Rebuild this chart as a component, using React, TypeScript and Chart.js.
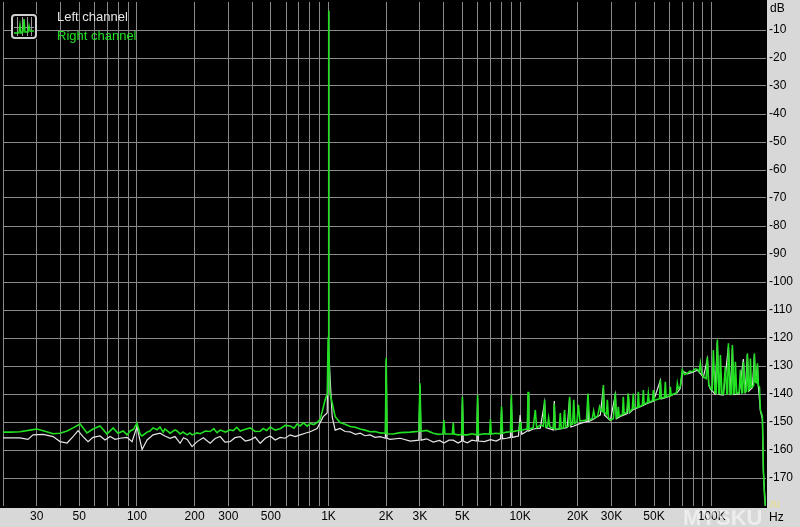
import { useEffect, useRef } from "react";
import { Chart, registerables } from "chart.js";

Chart.register(...registerables);

// ---- Data (frequency in Hz, level in dB) ----
const rightFreq = [
  20, 21.8, 24.5, 27.7, 30, 33.1, 36.5, 39.7, 43.2, 46.4, 50.5, 54.9, 59, 64.2, 69.8, 75.1, 79.7, 84.7, 88.8, 92.1,
  96, 100, 103.9, 106.4, 113, 117, 121.4, 127.4, 132, 137, 140, 149, 158, 162, 168, 174, 183, 189, 194, 206,
  214, 228, 241, 252, 262, 272, 290, 306, 318, 332, 346, 368, 390, 414, 440, 456, 476, 496, 527, 559,
  594, 630, 660, 686, 711, 740, 774, 802, 838, 872, 905, 927, 961, 985, 995, 1000, 1005, 1015, 1045, 1083,
  1150, 1220, 1297, 1380, 1463, 1550, 1649, 1750, 1861, 1980, 2000, 2020, 2176, 2367, 2669, 2960, 3000, 3040, 3250, 3520,
  3750, 3950, 4000, 4050, 4430, 4476, 4520, 4750, 4950, 5000, 5050, 5298, 5600, 5940, 6000, 6060, 6500, 6930, 7000, 7070,
  7450, 7900, 8000, 8100, 8500, 8900, 9000, 9100, 9500, 9900, 10000, 10100, 10500, 10900, 11000, 11100, 11700, 12000, 12200, 12740,
  13200, 13420, 13600, 13900, 14080, 14300, 14900, 15080, 15250, 16000, 16200, 16400, 16800, 17060, 17300, 17900, 18120, 18400, 18800, 19050,
  19300, 19800, 20150, 20500, 21300, 22200, 22600, 23000, 23800, 24200, 24600, 25400, 26000, 26500, 27000, 27200, 27500, 28200, 28530, 28900,
  29560, 30650, 31400, 31800, 32200, 32540, 32900, 33800, 34200, 34560, 34900, 36000, 36700, 37200, 38500, 38980, 39400, 41000, 41400, 41800,
  43500, 43960, 44400, 46140, 46680, 47200, 49000, 49600, 50200, 51800, 53400, 53940, 54500, 56700, 57260, 57800, 60200, 60820, 61400, 63040,
  65500, 66160, 66900, 68500, 70260, 72000, 74620, 77000, 79240, 82000, 84140, 86000, 87240, 88500, 90460, 93500, 94920, 96500, 98400, 100500,
  102000, 104000, 105500, 107000, 109000, 110000, 111000, 113000, 115000, 117800, 120000, 121000, 122200, 125000, 127000, 128200, 130500, 131500, 132900, 135000,
  139000, 141200, 143500, 145000, 146300, 149500, 152000, 153500, 156000, 158000, 159200, 161000, 163000, 165500, 167000, 169000, 171500, 173200, 175200, 177500,
  179500, 182000, 183900, 186100, 188000, 190600,
];
const rightDb = [
  -153.6, -153.6, -153.5, -152.9, -152.5, -153.3, -154.2, -154.0, -153.2, -152.1, -150.7, -153.9, -152.5, -151.4, -154.3, -152.1, -154.0, -153.2, -154.6, -153.2,
  -152.6, -150.4, -154.3, -155.0, -153.6, -153.2, -152.1, -152.8, -151.8, -153.6, -152.5, -154.0, -152.8, -153.2, -154.3, -153.6, -154.6, -153.9, -154.6, -153.9,
  -154.2, -153.2, -153.4, -152.4, -153.8, -152.9, -153.6, -152.8, -153.1, -151.9, -153.2, -152.6, -152.1, -153.4, -153.3, -152.3, -153.0, -151.8, -152.9, -152.4,
  -151.2, -151.4, -152.2, -150.7, -151.4, -150.3, -151.5, -150.5, -150.9, -150.2, -149.0, -146.3, -142.0, -140.0, -120.0, -3.0, -120.0, -139.5, -143.2, -148.1,
  -150.2, -150.8, -151.6, -151.9, -152.5, -152.9, -153.5, -153.4, -153.9, -154.0, -127.1, -154.2, -154.3, -153.8, -153.6, -153.3, -136.2, -153.3, -153.0, -154.0,
  -154.4, -154.3, -149.3, -154.3, -154.3, -150.3, -154.3, -154.6, -154.5, -141.0, -154.6, -154.6, -154.2, -154.6, -140.4, -154.6, -154.2, -154.3, -149.0, -154.3,
  -154.0, -154.2, -144.5, -154.0, -153.6, -153.5, -140.4, -153.5, -153.2, -153.0, -150.0, -153.0, -152.7, -152.5, -139.2, -152.5, -152.1, -145.7, -152.0, -151.1,
  -151.5, -142.1, -151.8, -151.6, -148.5, -151.8, -152.3, -143.5, -152.5, -152.5, -146.8, -152.3, -152.2, -145.7, -151.8, -151.5, -141.0, -151.0, -150.8, -142.1,
  -150.5, -150.0, -143.9, -149.6, -149.5, -149.3, -139.8, -149.3, -148.8, -146.0, -148.5, -147.8, -144.5, -146.0, -146.3, -136.8, -146.5, -147.3, -142.1, -148.5,
  -149.3, -148.8, -139.6, -148.5, -148.2, -144.6, -147.9, -147.5, -147.3, -141.0, -147.0, -146.6, -139.8, -146.4, -145.4, -139.8, -145.0, -144.8, -139.2, -144.6,
  -143.9, -138.6, -143.6, -143.1, -139.8, -142.9, -142.5, -138.6, -142.3, -142.0, -141.7, -134.8, -141.5, -141.2, -135.6, -141.0, -140.7, -137.4, -140.5, -140.0,
  -139.6, -136.2, -138.0, -137.5, -131.4, -133.0, -132.6, -131.8, -132.1, -131.0, -131.2, -132.0, -129.0, -132.5, -133.8, -134.5, -126.7, -136.5, -137.9, -138.5,
  -124.3, -139.5, -139.6, -120.5, -139.8, -139.8, -126.1, -139.9, -140.0, -130.2, -140.0, -140.0, -121.9, -140.0, -140.0, -122.5, -139.8, -139.8, -128.5, -139.8,
  -139.5, -131.4, -139.6, -139.5, -128.5, -139.3, -139.0, -125.5, -138.5, -138.0, -127.3, -137.5, -137.4, -137.0, -125.5, -135.6, -136.0, -129.0, -137.0, -137.5,
  -145.7, -147.0, -148.1, -167.0, -175.0, -180.0,
];

const leftFreq = [
  20, 24.5, 27, 28.7, 32.4, 36.5, 39.7, 43.2, 46.4, 49.3, 52.3, 55.6, 59, 64.2, 68.2, 72.4, 76.9, 81.7, 88.8, 94.3,
  100, 106.4, 113, 121.4, 132, 140, 149, 158, 168, 175, 183, 194, 206, 222, 241, 256, 272, 288, 306, 325,
  346, 368, 390, 414, 440, 468, 496, 527, 559, 594, 630, 670, 711, 755, 802, 872, 938, 984, 995, 1000,
  1005, 1045, 1083, 1150, 1220, 1297, 1380, 1463, 1550, 1649, 1750, 1861, 1980, 2000, 2020, 2098, 2367, 2669, 2960, 3000,
  3040, 3250, 3520, 3800, 4000, 4250, 4476, 4750, 4950, 5000, 5050, 5298, 5600, 5940, 6000, 6060, 6500, 7000, 7500, 7900,
  8000, 8100, 8500, 8900, 9000, 9100, 9800, 10000, 10200, 10900, 11000, 11100, 11700, 12740, 13420, 13600, 14900, 15080, 15250, 16200,
  17620, 18120, 18400, 18940, 20620, 22420, 22600, 22800, 24100, 26220, 27200, 27500, 29560, 31400, 31800, 33340, 36280, 36700, 37200, 38980,
  42420, 46140, 49600, 53940, 54500, 57260, 60820, 63040, 66160, 68500, 70260, 74620, 79240, 84140, 90460, 94920, 96500, 98400, 104000, 107000,
  109000, 115000, 122200, 125000, 128200, 130500, 139000, 146300, 149500, 153500, 156000, 163000, 167000, 169000, 173200, 175200, 179500, 183900, 186100, 190600,
];
const leftDb = [
  -155.7, -155.7, -156.2, -154.6, -154.4, -155.2, -157.0, -157.5, -155.2, -153.1, -155.2, -157.0, -155.5, -155.0, -156.4, -155.2, -156.2, -155.8, -155.5, -157.0,
  -151.7, -159.8, -156.4, -154.6, -154.0, -155.0, -155.8, -155.2, -157.6, -155.6, -156.2, -158.8, -157.0, -155.6, -157.6, -155.9, -155.2, -157.2, -157.0, -155.6,
  -155.2, -156.8, -156.4, -155.4, -157.6, -155.8, -155.0, -156.4, -155.5, -155.8, -154.6, -155.2, -154.6, -154.0, -153.5, -152.3, -148.1, -146.8, -125.0, -3.5,
  -125.0, -148.1, -152.9, -152.3, -153.4, -153.5, -154.4, -154.0, -154.9, -154.6, -155.5, -155.2, -155.8, -128.0, -155.8, -156.2, -155.8, -156.8, -156.5, -137.0,
  -156.5, -156.0, -157.2, -156.6, -157.5, -156.5, -156.5, -157.5, -156.8, -142.0, -156.8, -157.4, -156.5, -156.8, -141.5, -156.8, -157.0, -156.3, -156.8, -156.0,
  -145.5, -156.0, -155.8, -155.5, -141.5, -155.5, -155.0, -147.5, -154.4, -153.2, -140.5, -153.2, -152.5, -152.2, -143.0, -152.0, -152.8, -142.5, -152.8, -152.5,
  -152.0, -141.5, -151.8, -151.5, -150.5, -149.8, -140.5, -149.8, -149.0, -147.5, -137.5, -147.5, -149.5, -140.2, -148.8, -148.0, -147.0, -140.0, -146.8, -145.5,
  -144.5, -143.4, -142.6, -135.2, -141.8, -141.3, -140.7, -140.2, -139.5, -138.0, -131.8, -132.8, -132.3, -131.5, -134.0, -127.5, -136.8, -138.2, -140.0, -121.5,
  -140.2, -140.4, -123.0, -140.4, -123.5, -140.2, -140.0, -127.5, -139.8, -126.0, -139.0, -137.8, -126.0, -136.0, -130.0, -137.5, -146.0, -149.0, -168.0, -180.0,
];

// Grid lines on the frequency axis and the ones that carry a label
const xGridTicks = [
  20, 30, 40, 50, 60, 70, 80, 90,
  100, 200, 300, 400, 500, 600, 700, 800, 900,
  1000, 2000, 3000, 4000, 5000, 6000, 7000, 8000, 9000,
  10000, 20000, 30000, 40000, 50000, 60000, 70000, 80000, 90000,
  100000,
];
const xLabelValues = [30, 50, 100, 200, 300, 500, 1000, 2000, 3000, 5000, 10000, 20000, 30000, 50000, 100000];
const xLabelTexts = ["30", "50", "100", "200", "300", "500", "1K", "2K", "3K", "5K", "10K", "20K", "30K", "50K", "100K"];
const yTicks = [-10, -20, -30, -40, -50, -60, -70, -80, -90, -100, -110, -120, -130, -140, -150, -160, -170];

const seriesNames = ["Left channel", "Right channel"];
const seriesColors = ["#e6e6e6", "#22e022"];

const FONT = "'Liberation Sans', Arial, sans-serif";
const PANEL = "#d8d8d8";
const GRID = "#8a8a8a";

const bgPlugin = {
  id: "bgPlugin",
  beforeDraw(chart: any) {
    const { ctx, chartArea, width, height } = chart;
    ctx.save();
    ctx.fillStyle = PANEL;
    ctx.fillRect(0, 0, width, height);
    ctx.fillStyle = "#000000";
    ctx.fillRect(0, 0, chartArea.right + 1, chartArea.bottom + 2);
    ctx.restore();
  },
  afterDraw(chart: any) {
    const { ctx, chartArea, width, height } = chart;
    ctx.save();
    // legend icon
    ctx.fillStyle = "#000";
    ctx.fillRect(11, 14, 26, 25);
    ctx.strokeStyle = "#cfcfcf";
    ctx.lineWidth = 2;
    ctx.beginPath();
    (ctx as any).roundRect(12, 15, 24, 23, 3);
    ctx.stroke();
    ctx.strokeStyle = "#9a9a9a";
    ctx.lineWidth = 1;
    ctx.beginPath();
    [17.5, 22.5, 27.5, 31.5].forEach((x) => {
      ctx.moveTo(x, 17);
      ctx.lineTo(x, 36);
    });
    ctx.moveTo(14, 27.5);
    ctx.lineTo(34, 27.5);
    ctx.stroke();
    ctx.strokeStyle = "#22e022";
    ctx.lineWidth = 1.5;
    ctx.beginPath();
    ctx.moveTo(14, 33);
    ctx.lineTo(19, 33);
    ctx.lineTo(20, 25);
    ctx.lineTo(21, 33);
    ctx.lineTo(23, 32);
    ctx.lineTo(24, 19);
    ctx.lineTo(25, 32);
    ctx.lineTo(28, 32);
    ctx.lineTo(29, 26);
    ctx.lineTo(30, 31);
    ctx.lineTo(34, 31);
    ctx.stroke();

    // legend texts
    ctx.font = `13px ${FONT}`;
    ctx.textBaseline = "middle";
    ctx.textAlign = "left";
    ctx.fillStyle = seriesColors[0];
    ctx.fillText(seriesNames[0], 57, 17);
    ctx.fillStyle = seriesColors[1];
    ctx.fillText(seriesNames[1], 57, 36);

    // axis units
    ctx.font = `12px ${FONT}`;
    ctx.fillStyle = "#000";
    ctx.fillText("dB", chartArea.right + 4, 9);
    ctx.fillText("Hz", chartArea.right + 3, height - 9);

    // watermark
    ctx.font = `bold 22px ${FONT}`;
    ctx.textBaseline = "alphabetic";
    ctx.fillStyle = "rgba(255,255,255,0.55)";
    ctx.fillText("MYSKU", 683, height - 2);
    ctx.font = `10px ${FONT}`;
    ctx.fillStyle = "rgba(240,225,90,0.75)";
    ctx.fillText(".ru", width - 32, height - 20);
    ctx.restore();
  },
};

export default function App() {
  const canvasRef = useRef<HTMLCanvasElement | null>(null);

  useEffect(() => {
    document.body.style.margin = "0";
    const canvas = canvasRef.current;
    if (!canvas) return;
    const chart = new Chart(canvas, {
      type: "line",
      data: {
        datasets: [
          {
            label: seriesNames[0],
            data: leftFreq.map((f, i) => ({ x: f, y: leftDb[i] })),
            borderColor: seriesColors[0],
            borderWidth: 1.2,
            pointRadius: 0,
            tension: 0,
            order: 1,
          },
          {
            label: seriesNames[1],
            data: rightFreq.map((f, i) => ({ x: f, y: rightDb[i] })),
            borderColor: seriesColors[1],
            borderWidth: 1.6,
            pointRadius: 0,
            tension: 0,
            order: 0,
          },
        ],
      },
      options: {
        animation: false,
        responsive: false,
        devicePixelRatio: 1,
        layout: { padding: { left: 3, top: 2, right: 0, bottom: 0 } },
        plugins: {
          legend: { display: false },
          tooltip: { enabled: false },
        },
        scales: {
          x: {
            type: "logarithmic",
            position: "bottom",
            min: 20,
            max: 192000,
            afterBuildTicks: (scale: any) => {
              scale.ticks = xGridTicks.map((v) => ({ value: v }));
            },
            afterFit: (scale: any) => {
              scale.height = 21;
              scale.paddingLeft = 0;
              scale.paddingRight = 0;
            },
            ticks: {
              autoSkip: false,
              maxRotation: 0,
              minRotation: 0,
              padding: 3,
              color: "#000",
              font: { family: FONT, size: 12 },
              callback: (value: any) => {
                const i = xLabelValues.indexOf(Number(value));
                return i >= 0 ? xLabelTexts[i] : "";
              },
            },
            grid: { color: GRID, drawTicks: false, lineWidth: 1 },
            border: { display: false },
          },
          y: {
            type: "linear",
            position: "right",
            min: -180,
            max: 0,
            afterBuildTicks: (scale: any) => {
              scale.ticks = yTicks.map((v) => ({ value: v }));
            },
            afterFit: (scale: any) => {
              scale.width = 34;
              scale.paddingTop = 0;
              scale.paddingBottom = 0;
            },
            ticks: {
              padding: 3,
              color: "#000",
              font: { family: FONT, size: 12 },
              callback: (value: any) => String(value),
            },
            grid: { color: GRID, drawTicks: false, lineWidth: 1 },
            border: { display: false },
          },
        },
      },
      plugins: [bgPlugin],
    });
    return () => chart.destroy();
  }, []);

  return (
    <div style={{ position: "absolute", left: 0, top: 0, width: 800, height: 527 }}>
      <canvas ref={canvasRef} width={800} height={527} style={{ display: "block" }} />
    </div>
  );
}
